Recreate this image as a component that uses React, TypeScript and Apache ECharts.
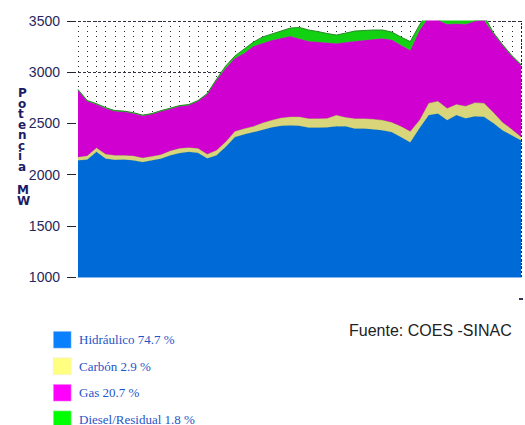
import React, { useEffect, useRef } from "react";
import * as echarts from "echarts";

const categories = [
  "00:00","00:30","01:00","01:30","02:00","02:30","03:00","03:30","04:00","04:30",
  "05:00","05:30","06:00","06:30","07:00","07:30","08:00","08:30","09:00","09:30",
  "10:00","10:30","11:00","11:30","12:00","12:30","13:00","13:30","14:00","14:30",
  "15:00","15:30","16:00","16:30","17:00","17:30","18:00","18:30","19:00","19:30",
  "20:00","20:30","21:00","21:30","22:00","22:30","23:00","23:30","24:00",
];

const hidraulico = [
  2141,2148,2222,2157,2146,2148,2141,2124,2141,2157,
  2190,2212,2222,2214,2160,2190,2271,2366,2395,2415,
  2439,2463,2478,2483,2478,2461,2461,2463,2473,2473,
  2451,2451,2444,2434,2415,2366,2317,2454,2581,2597,
  2532,2581,2551,2571,2566,2503,2434,2385,2336,
];
const carbon = [
  32,37,41,43,44,42,44,41,39,40,
  44,46,43,44,40,49,49,58,54,58,
  68,69,78,83,88,88,88,88,108,88,
  98,98,98,98,97,107,107,78,117,121,
  117,107,118,132,132,107,78,59,33,
];
const gas = [
  652,533,425,449,430,425,415,411,411,423,
  410,411,414,460,586,684,720,714,738,782,
  778,782,778,787,763,755,748,739,701,733,
  755,765,782,799,807,792,792,880,841,792,
  821,787,801,797,812,772,753,714,701,
];
const diesel = [
  5,5,5,5,5,5,5,5,5,5,
  5,5,5,5,5,8,20,20,39,39,
  59,59,68,78,108,108,100,88,81,88,
  98,93,88,81,73,78,83,49,60,60,
  80,80,80,60,40,5,5,5,5,
];

const seriesNames = ["Hidráulico", "Carbón", "Gas", "Diesel/Residual"];
const percents = ["74.7 %", "2.9 %", "20.7 %", "1.8 %"];
const yTicks = { min: 1000, max: 3500, interval: 500 };

const areaColors = ["#006bd6", "#d8d57a", "#d000d0", "#12d012"];
const edgeColors = ["#2f7fa0", "#a8a660", "#7a6a7a", "#2a8a2a"];
const legendColors = ["#0a80ff", "#ffff80", "#ff00ff", "#00ff00"];

export default function App() {
  const ref = useRef<HTMLDivElement>(null);
  useEffect(() => {
    if (!ref.current) return;
    const chart = echarts.init(ref.current, null, { renderer: "svg" });
    const values = [hidraulico, carbon, gas, diesel];
    const series: any[] = values.map((d, i) => ({
      name: seriesNames[i],
      type: "line",
      stack: "total",
      data: d,
      showSymbol: false,
      symbol: "none",
      clip: true,
      lineStyle: { width: 1, color: edgeColors[i] },
      areaStyle: { color: areaColors[i], opacity: 1 },
      itemStyle: { color: areaColors[i] },
      z: 2 + i,
    }));
    series[3].markLine = {
      silent: true,
      symbol: ["none", "none"],
      label: { show: false },
      lineStyle: { type: [2, 2], color: "#1a1a5a", width: 1 },
      data: [{ xAxis: categories[categories.length - 1] }],
    };

    const legendItems: any[] = [];
    seriesNames.forEach((n, i) => {
      legendItems.push({
        type: "rect",
        left: 53,
        top: 331 + i * 26.5,
        shape: { width: 18, height: 17 },
        style: { fill: legendColors[i], stroke: "#e8e8f0", lineWidth: 0.5 },
      });
      legendItems.push({
        type: "text",
        left: 79,
        top: 333 + i * 26.5,
        style: {
          text: n + " " + percents[i],
          fill: "#1f55c8",
          font: "13px 'Liberation Serif', 'Times New Roman', serif",
        },
      });
    });

    chart.setOption({
      animation: false,
      backgroundColor: "#ffffff",
      grid: { left: 78, right: 4, top: 21, bottom: 148, containLabel: false },
      xAxis: {
        type: "category",
        data: categories,
        boundaryGap: false,
        axisLabel: { show: false },
        axisTick: { show: false },
        axisLine: { show: true, lineStyle: { color: "#86b6ec", width: 1 } },
        splitLine: {
          show: true,
          interval: 0,
          lineStyle: { type: [1, 4], color: "#222233", width: 1 },
        },
      },
      yAxis: {
        type: "value",
        min: yTicks.min,
        max: yTicks.max,
        interval: yTicks.interval,
        offset: 2,
        axisLine: { show: false },
        axisTick: { show: true, length: 9, lineStyle: { color: "#222233", width: 1 } },
        axisLabel: {
          margin: 16,
          color: "#26265e",
          fontFamily: "Liberation Sans, Arial, sans-serif",
          fontSize: 14,
          formatter: (v: number) => String(v),
        },
        splitLine: {
          show: true,
          lineStyle: { type: [3, 2], color: "#333344", width: 1 },
        },
      },
      graphic: [
        {
          type: "text",
          left: 18,
          top: 87,
          style: {
            text: "P\no\nt\ne\nn\nc\ni\na",
            fill: "#1c1c66",
            font: "bold 12px 'DejaVu Sans', sans-serif",
            lineHeight: 10.5,
            align: "center",
          },
        },
        {
          type: "text",
          left: 17,
          top: 184,
          style: {
            text: "M\nW",
            fill: "#1c1c66",
            font: "bold 12px 'DejaVu Sans', sans-serif",
            lineHeight: 11,
            align: "center",
          },
        },
        {
          type: "text",
          left: 349,
          top: 322,
          style: {
            text: "Fuente: COES -SINAC",
            fill: "#222222",
            font: "16px 'Liberation Sans', Arial, sans-serif",
          },
        },
        {
          type: "rect",
          left: 519,
          top: 298,
          shape: { width: 4, height: 2 },
          style: { fill: "#333355" },
        },
        ...legendItems,
      ],
      series,
    });
    return () => chart.dispose();
  }, []);
  return (
    <div
      ref={ref}
      style={{ position: "fixed", left: 0, top: 0, width: 525, height: 425 }}
    />
  );
}
